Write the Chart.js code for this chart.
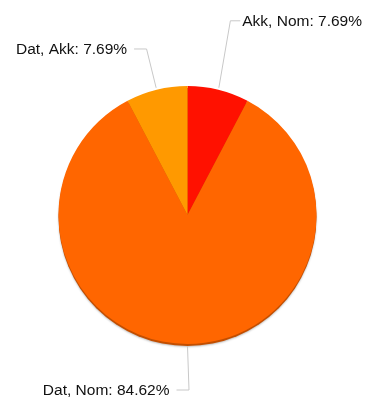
<!DOCTYPE html>
<html>
<head>
<meta charset="utf-8">
<script src="https://cdn.jsdelivr.net/npm/chart.js@4"></script>
<style>
  html, body { margin: 0; padding: 0; background: #ffffff; }
  #wrap { width: 365px; height: 399px; }
</style>
</head>
<body>
<div id="wrap"><canvas id="pie"></canvas></div>
<script>
// Case-pair shares
const categories = ['Akk, Nom', 'Dat, Nom', 'Dat, Akk'];
const counts = [1, 11, 1];
const sliceColors = ['#ff1100', '#ff6600', '#ff9900'];

// Drop shadow under the whole disc
const discShadow = {
  id: 'discShadow',
  beforeDatasetsDraw(chart) {
    const arc = chart.getDatasetMeta(0).data[0];
    if (!arc) return;
    const { x, y, outerRadius } = arc.getProps(['x', 'y', 'outerRadius'], true);
    const ctx = chart.ctx;
    ctx.save();
    ctx.beginPath();
    ctx.arc(x, y + 2, outerRadius, 0, Math.PI * 2);
    ctx.fillStyle = '#c24e00';
    ctx.shadowColor = 'rgba(0,0,0,0.25)';
    ctx.shadowBlur = 2;
    ctx.shadowOffsetY = 1;
    ctx.fill();
    ctx.restore();
  }
};

// Callout labels with elbow leader lines; labels are kept inside the canvas
const callouts = {
  id: 'callouts',
  afterDatasetsDraw(chart, args, opts) {
    const ctx = chart.ctx;
    const meta = chart.getDatasetMeta(0);
    const data = chart.data.datasets[0].data;
    const total = data.reduce((a, b) => a + b, 0);
    ctx.save();
    ctx.font = opts.font;
    ctx.textBaseline = 'middle';
    meta.data.forEach((arc, i) => {
      const p = arc.getProps(['x', 'y', 'startAngle', 'endAngle', 'outerRadius'], true);
      const mid = (p.startAngle + p.endAngle) / 2;
      const cos = Math.cos(mid), sin = Math.sin(mid);
      const x0 = p.x + cos * (p.outerRadius + 2);
      const y0 = p.y + sin * (p.outerRadius + 2);
      const reach = p.outerRadius + opts.reach[i];
      const x1 = p.x + cos * reach + opts.nudgeX[i];
      const y1 = p.y + sin * reach;
      const right = cos > 0.01;
      const pct = (data[i] / total * 100).toFixed(2) + '%';
      const text = chart.data.labels[i] + ': ' + pct;
      const w = ctx.measureText(text).width;
      let x2, tx;
      if (right) {
        x2 = x1 + opts.tail;
        tx = x2 + opts.gap;
        const maxX = chart.width - opts.edge;
        if (tx + w > maxX) {
          tx = maxX - w;
          x2 = Math.max(x1 + 4, tx - 2);
        }
      } else {
        x2 = x1 - opts.tail;
        tx = x2 - opts.gap;
        if (tx - w < opts.edge) {
          tx = opts.edge + w;
          x2 = Math.min(x1 - 4, tx + 2);
        }
      }
      ctx.beginPath();
      ctx.moveTo(x0, y0);
      ctx.lineTo(x1, y1);
      ctx.lineTo(x2, y1);
      ctx.strokeStyle = '#c8c8c8';
      ctx.lineWidth = 1;
      ctx.stroke();
      ctx.fillStyle = '#111111';
      ctx.textAlign = right ? 'left' : 'right';
      ctx.fillText(text, tx, y1 + 1);
    });
    ctx.restore();
  }
};

new Chart(document.getElementById('pie'), {
  type: 'pie',
  data: {
    labels: categories,
    datasets: [{
      data: counts,
      backgroundColor: sliceColors,
      borderWidth: 0
    }]
  },
  options: {
    responsive: true,
    maintainAspectRatio: false,
    animation: false,
    layout: { padding: { top: 86, bottom: 55, left: 58, right: 48 } },
    plugins: {
      legend: { display: false },
      tooltip: { enabled: false },
      callouts: {
        font: '15.5px "Liberation Sans", Arial, sans-serif',
        reach: [71, 46, 42],
        nudgeX: [-5, 1.5, 0],
        tail: 12.5,
        gap: 7,
        edge: 3
      }
    }
  },
  plugins: [discShadow, callouts]
});
</script>
</body>
</html>
